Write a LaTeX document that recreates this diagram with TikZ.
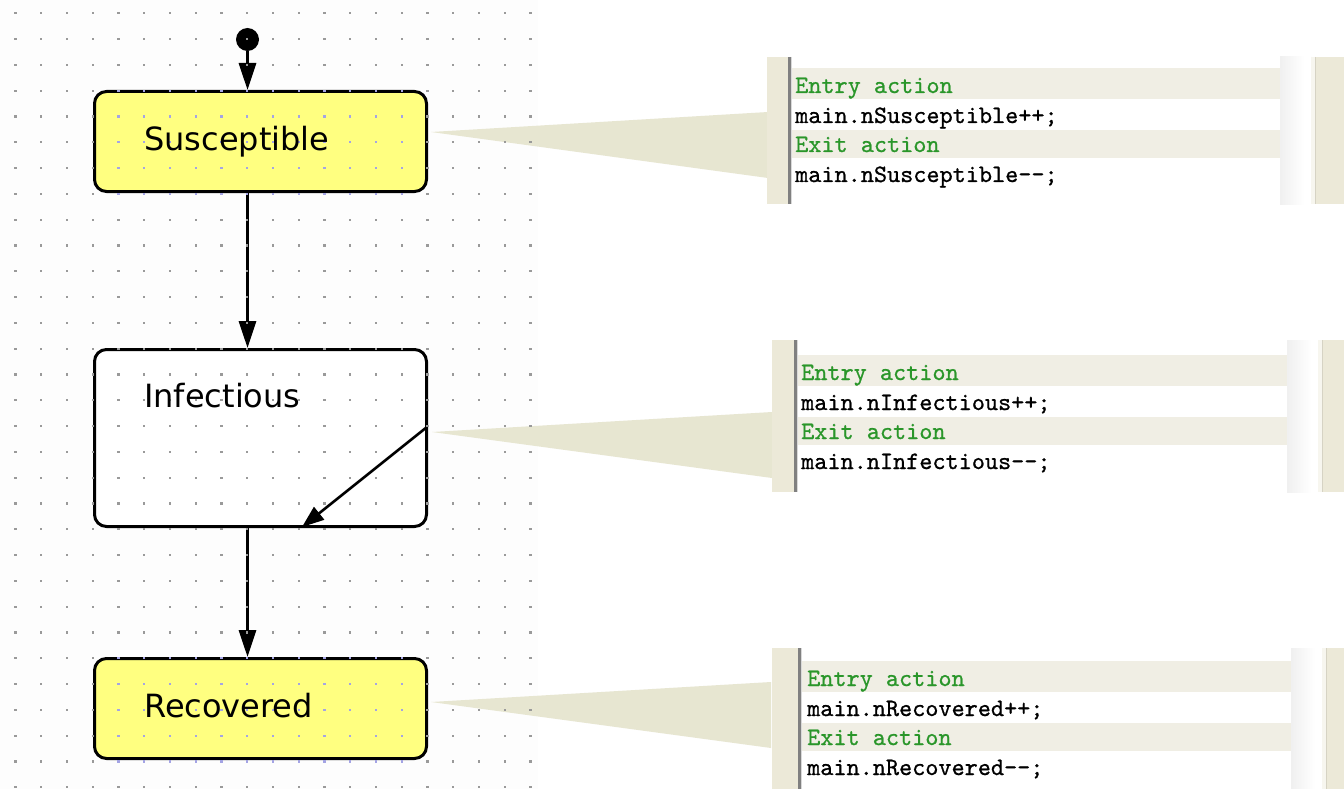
\documentclass[tikz,border=0pt]{standalone}
\usepackage{fontspec}
\setmainfont{DejaVu Sans}
\newfontfamily\codefont[FakeBold=0.8]{lmmono10-regular.otf}
\usetikzlibrary{arrows.meta}

\definecolor{statefill}{HTML}{FFFF80}
\definecolor{griddot}{HTML}{9A9A9A}
\definecolor{griddotY}{HTML}{A4A4E4}
\definecolor{canvas}{HTML}{FDFDFD}
\definecolor{calloutc}{HTML}{E7E6D1}
\definecolor{xpface}{HTML}{ECE9D8}
\definecolor{bandc}{HTML}{F0EEE4}
\definecolor{actgreen}{HTML}{2A962A}
\definecolor{rulegray}{HTML}{808080}
\definecolor{sepline}{HTML}{D6D3C4}

% one "action" panel: #1 top, #2 bottom, #3 strip left, #4 rule x,
% #5 text x, #6 right edge of rows, #7 content top, #8 name prefix,
% #9 variable name
\newcommand{\actionpanel}[9]{%
  \fill[xpface] (#3,#1) rectangle (#4,#2);
  \fill[white] (#4,#1) rectangle (#6,#2);
  \fill[bandc] (#4,{#7+11}) rectangle (#6,{#7+42});
  \fill[bandc] (#4,{#7+73}) rectangle (#6,{#7+101});
  \draw[rulegray, line width=2.6pt] ({#4+1.3},#1) -- ({#4+1.3},#2);
  \draw[white!70!rulegray, line width=0.8pt] ({#4+3},#1) -- ({#4+3},#2);
  \shade[left color=black!6, right color=white] (#6,#1) rectangle ({#6+24},#2);
  \fill[white] ({#6+24},#1) rectangle ({#6+31},#2);
  \draw[sepline, line width=0.8pt] ({#6+31},#1) -- ({#6+31},#2);
  \fill[white!60!xpface] ({#6+31.4},#1) rectangle ({#6+35.5},#2);
  \draw[sepline, line width=0.8pt] ({#6+35.8},#1) -- ({#6+35.8},#2);
  \fill[xpface] ({#6+36.2},#1) rectangle (1344,#2);
  \node[code, text=actgreen] (#8-entry) at (#5,{#7+36}) {Entry action};
  \node[code] (#8-entrycode) at (#5,{#7+66}) {main.n#9++;};
  \node[code, text=actgreen] (#8-exit) at (#5,{#7+95}) {Exit action};
  \node[code] (#8-exitcode) at (#5,{#7+125}) {main.n#9-{}-;};
}

\begin{document}
\begin{tikzpicture}[x=1pt,y=-1pt,
  state/.style={draw=black, line width=3pt, rounded corners=12pt,
    inner sep=0pt, minimum width=332pt},
  statelbl/.style={anchor=base west, inner sep=0pt,
    font=\fontsize{32}{38}\selectfont},
  code/.style={anchor=base west, inner sep=0pt,
    font=\codefont\fontsize{25}{30}\selectfont},
  flow/.style={line width=3pt, -{Triangle[length=27pt,width=17pt]}},
  innerflow/.style={line width=2.6pt, -{Triangle[length=22pt,width=16pt]}},
  callout/.style={fill=calloutc},
]
\useasboundingbox (0,0) rectangle (1344,789);
\fill[white] (0,0) rectangle (1344,789);
\fill[canvas] (0,0) rectangle (538,789);

% callout wedges
\fill[callout] (431,132) -- (768,112) -- (768,178) -- cycle;
\fill[callout] (432,432) -- (772,412) -- (772,478) -- cycle;
\fill[callout] (431,702) -- (771,682) -- (771,748) -- cycle;

% action panels
\actionpanel{57}{204}{767}{788}{795}{1280}{57}{pS}{Susceptible}
\actionpanel{340}{492}{772}{794}{801}{1287}{344}{pI}{Infectious}
\actionpanel{648}{789}{772}{798}{807}{1291}{650}{pR}{Recovered}

% states
\node[state, fill=statefill, minimum height=100pt] (sus) at (260.5,141.5) {};
\node[state, fill=white, minimum height=177pt] (inf) at (260.5,438) {};
\node[state, fill=statefill, minimum height=100pt] (rec) at (260.5,708.5) {};

% initial pseudo-state and transitions
\node[circle, fill=black, minimum size=23pt, inner sep=0pt] (init) at (247.5,39.5) {};
\draw[flow] (init) -- (init |- sus.north);
\draw[flow] (sus.south -| init) -- (init |- inf.north);
\draw[flow] (inf.south -| init) -- (init |- rec.north);
\coordinate (tStart) at (427,427);
\coordinate (tEnd) at (302,527);
\draw[innerflow] (tStart) -- (tEnd);

% editor grid
\foreach \i in {0,...,20}
  \foreach \j in {0,...,30}
    \fill[griddot] ({15.5+25.75*\i-1.15},{13.3+25.8*\j-1.15})
      rectangle ({15.5+25.75*\i+1.15},{13.3+25.8*\j+1.15});
\foreach \stname in {sus,rec} {
  \begin{scope}
    \clip ([shift={(3pt,-3pt)}]\stname.south west) rectangle ([shift={(-3pt,3pt)}]\stname.north east);
    \foreach \i in {0,...,20}
      \foreach \j in {0,...,30}
        \fill[griddotY] ({15.5+25.75*\i-1.15},{13.3+25.8*\j-1.15})
          rectangle ({15.5+25.75*\i+1.15},{13.3+25.8*\j+1.15});
  \end{scope}
}

% state names
\node[statelbl] (susT) at (144,150) {Susceptible};
\node[statelbl] (infT) at (144,407) {Infectious};
\node[statelbl] (recT) at (144,717) {Recovered};
\end{tikzpicture}
\end{document}
